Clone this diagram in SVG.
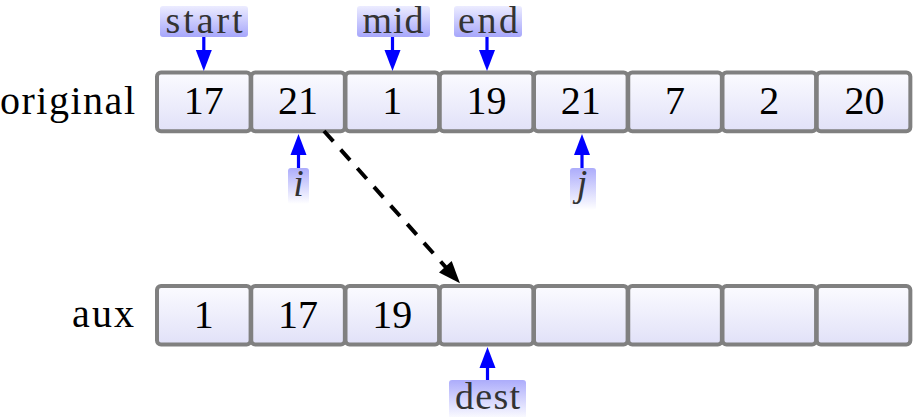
<svg xmlns="http://www.w3.org/2000/svg" width="917" height="417" viewBox="0 0 917 417">
<defs>
<linearGradient id="gCell" x1="0" y1="0" x2="0" y2="1">
<stop offset="0" stop-color="#fbfbff"/>
<stop offset="1" stop-color="#e1e1f8"/>
</linearGradient>
<linearGradient id="gTop" x1="0" y1="0" x2="0" y2="1">
<stop offset="0" stop-color="#ececff"/>
<stop offset="1" stop-color="#a6a6fb"/>
</linearGradient>
<linearGradient id="gBot" x1="0" y1="0" x2="0" y2="1">
<stop offset="0" stop-color="#acacfb"/>
<stop offset="1" stop-color="#ffffff"/>
</linearGradient>
<marker id="ahBlue" markerUnits="userSpaceOnUse" markerWidth="24" markerHeight="18" refX="1" refY="8" orient="auto" overflow="visible">
<path d="M0,0 L21,8 L0,16 Z" fill="#0000ff"/>
</marker>
<marker id="ahBlack" markerUnits="userSpaceOnUse" markerWidth="24" markerHeight="18" refX="1" refY="8.5" orient="auto" overflow="visible">
<path d="M0,0 L22,8.5 L0,17 Z" fill="#000000"/>
</marker>
</defs>
<style>
.cell{fill:url(#gCell);stroke:#808080;stroke-width:4}
.num{font-family:"Liberation Serif","Times New Roman",serif;font-size:40px;fill:#000;text-anchor:middle}
.rowlabel{font-family:"Liberation Serif","Times New Roman",serif;font-size:40px;fill:#000;text-anchor:end}
.tlab{fill:url(#gTop)}
.blab{fill:url(#gBot)}
.ltxt{font-family:"Liberation Serif","Times New Roman",serif;font-size:38px;fill:#333;text-anchor:middle}
.itxt{font-family:"Liberation Serif","Times New Roman",serif;font-size:38px;font-style:italic;fill:#333;text-anchor:middle}
.barrow{stroke:#0000ff;stroke-width:3.2;fill:none;marker-end:url(#ahBlue)}
.darrow{stroke:#000;stroke-width:4;fill:none;stroke-dasharray:14 11;marker-end:url(#ahBlack)}
</style>

<g id="original">
<text class="rowlabel" x="135" y="114" textLength="135" lengthAdjust="spacing">original</text>
<g id="orig0"><rect class="cell" x="157" y="72.5" width="93.6" height="58.8" rx="4"/><text class="num" x="203.8" y="114">17</text></g>
<g id="orig1"><rect class="cell" x="251.25" y="72.5" width="93.6" height="58.8" rx="4"/><text class="num" x="298" y="114">21</text></g>
<g id="orig2"><rect class="cell" x="345.5" y="72.5" width="93.6" height="58.8" rx="4"/><text class="num" x="392.3" y="114">1</text></g>
<g id="orig3"><rect class="cell" x="439.75" y="72.5" width="93.6" height="58.8" rx="4"/><text class="num" x="486.5" y="114">19</text></g>
<g id="orig4"><rect class="cell" x="534" y="72.5" width="93.6" height="58.8" rx="4"/><text class="num" x="580.8" y="114">21</text></g>
<g id="orig5"><rect class="cell" x="628.25" y="72.5" width="93.6" height="58.8" rx="4"/><text class="num" x="675" y="114">7</text></g>
<g id="orig6"><rect class="cell" x="722.5" y="72.5" width="93.6" height="58.8" rx="4"/><text class="num" x="769.3" y="114">2</text></g>
<g id="orig7"><rect class="cell" x="816.75" y="72.5" width="93.6" height="58.8" rx="4"/><text class="num" x="864.5" y="114">20</text></g>
</g>

<g id="aux">
<text class="rowlabel" x="134" y="327" textLength="62" lengthAdjust="spacing">aux</text>
<g id="aux0"><rect class="cell" x="157" y="286" width="93.6" height="58.5" rx="4"/><text class="num" x="203.8" y="327.5">1</text></g>
<g id="aux1"><rect class="cell" x="251.25" y="286" width="93.6" height="58.5" rx="4"/><text class="num" x="298" y="327.5">17</text></g>
<g id="aux2"><rect class="cell" x="345.5" y="286" width="93.6" height="58.5" rx="4"/><text class="num" x="392.3" y="327.5">19</text></g>
<g id="aux3"><rect class="cell" x="439.75" y="286" width="93.6" height="58.5" rx="4"/></g>
<g id="aux4"><rect class="cell" x="534" y="286" width="93.6" height="58.5" rx="4"/></g>
<g id="aux5"><rect class="cell" x="628.25" y="286" width="93.6" height="58.5" rx="4"/></g>
<g id="aux6"><rect class="cell" x="722.5" y="286" width="93.6" height="58.5" rx="4"/></g>
<g id="aux7"><rect class="cell" x="816.75" y="286" width="93.6" height="58.5" rx="4"/></g>
</g>

<g id="label-start"><rect class="tlab" x="160" y="6" width="88" height="31" rx="3"/><text class="ltxt" x="204" y="32.5" textLength="77" lengthAdjust="spacing">start</text></g>
<g id="label-mid"><rect class="tlab" x="357" y="6" width="73" height="31" rx="3"/><text class="ltxt" x="393" y="32.5" textLength="61" lengthAdjust="spacing">mid</text></g>
<g id="label-end"><rect class="tlab" x="454" y="6" width="68" height="31" rx="3"/><text class="ltxt" x="488" y="32.5" textLength="60" lengthAdjust="spacing">end</text></g>
<g id="label-i"><rect class="blab" x="288" y="168" width="21" height="36" rx="3"/><text class="itxt" x="298.5" y="196">i</text></g>
<g id="label-j"><rect class="blab" x="570" y="168" width="26" height="42" rx="3"/><text class="itxt" x="582" y="196">j</text></g>
<g id="label-dest"><rect class="blab" x="449" y="380" width="77" height="40" rx="3"/><text class="ltxt" x="487.5" y="408.5" textLength="65" lengthAdjust="spacing">dest</text></g>

<g id="connectors">
<line class="barrow" x1="203.8" y1="37" x2="203.8" y2="51"/>
<line class="barrow" x1="392.5" y1="37" x2="392.5" y2="51"/>
<line class="barrow" x1="487" y1="37" x2="487" y2="51"/>
<line class="barrow" x1="298.5" y1="168" x2="298.5" y2="154"/>
<line class="barrow" x1="582" y1="168" x2="582" y2="154"/>
<line class="barrow" x1="487.5" y1="380" x2="487.5" y2="367"/>
<line class="darrow" x1="324" y1="131" x2="446" y2="267.5"/>
</g>
</svg>
